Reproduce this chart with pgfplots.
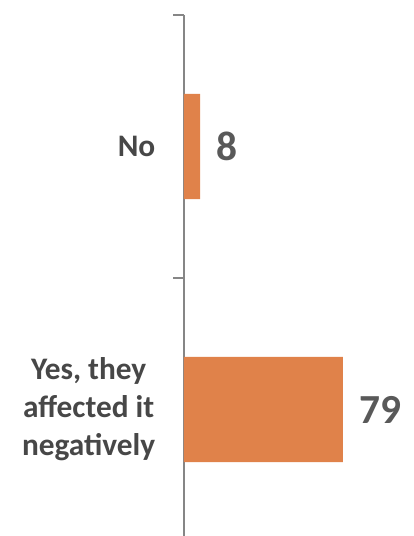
\documentclass[border=0pt]{standalone}
\usepackage{pgfplots}
\pgfplotsset{compat=1.18}
\usepackage{fontspec}
\setmainfont{Carlito}
\definecolor{barorange}{HTML}{E0824A}
\definecolor{txtgray}{HTML}{595959}
\definecolor{lblgray}{HTML}{474747}
\definecolor{axgray}{HTML}{868686}
\begin{document}
\begin{tikzpicture}
\path[use as bounding box] (-138pt,-390.75pt) rectangle (172.5pt,11.25pt);
\begin{axis}[
  at={(0,0)}, anchor=north west,
  scale only axis,
  width=172.5pt, height=390.75pt,
  xbar, bar width=0.4,
  xmin=0, xmax=114.3,
  ymin=-0.5, ymax=1.481,
  y dir=reverse,
  axis x line=none,
  axis y line*=left,
  axis line style={axgray, line width=1.5pt},
  ytick={0,1},
  yticklabels={No, {Yes, they\\affected it\\negatively}},
  yticklabel style={align=center, font=\bfseries\fontsize{23.5}{28.5}\selectfont, text=lblgray},
  major tick length=0pt,
  minor ytick={-0.5,0.5,1.5},
  minor tick length=8pt,
  tick align=outside,
  every minor tick/.style={axgray, line width=1.5pt},
  y tick label style={xshift=-18pt},
  /pgf/number format/assume math mode=true,
  nodes near coords,
  nodes near coords style={anchor=west, xshift=9pt, font=\bfseries\fontsize{31}{36}\selectfont, text=txtgray},
]
\addplot[fill=barorange, draw=none] coordinates {(8,0) (79,1)};
\end{axis}
\end{tikzpicture}
\end{document}
